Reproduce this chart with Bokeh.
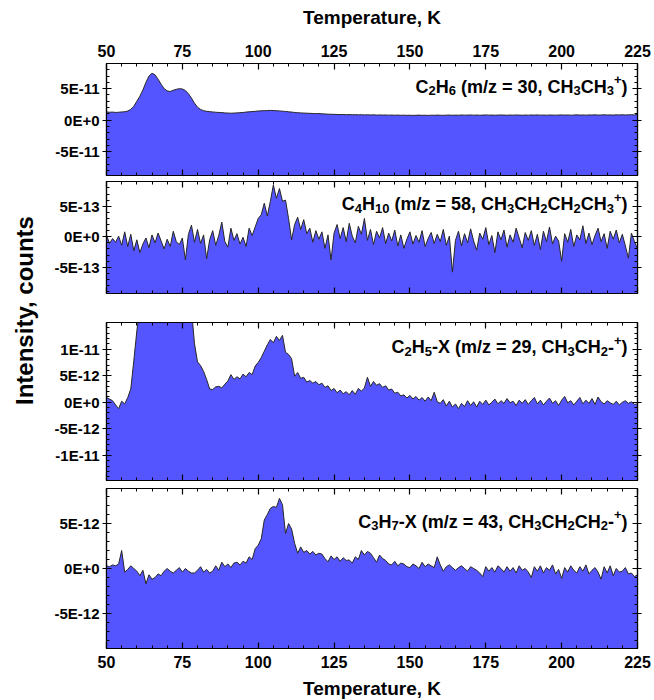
import numpy as np
from bokeh.plotting import figure
from bokeh.layouts import row, column
from bokeh.models import (LinearAxis, FixedTicker, CustomJSTickFormatter, Range1d,
                          ColumnDataSource, Label)
from bokeh.core.properties import value
from bokeh.embed import file_html
from bokeh.resources import INLINE

# ---------------- data ----------------
temperature_K = list(range(50, 226))   # 1 K sampling grid, 50 ... 225 K

# C2H6, m/z = 30 (units of 1e-11 counts)
c2h6_e11 = [
    1.30, 1.25, 1.28, 1.22, 1.25, 1.30, 1.33, 1.45, 1.70, 2.20,
    3.00, 3.80, 4.80, 6.00, 7.00, 7.45, 7.20, 6.50, 5.70, 5.00,
    4.65, 4.55, 4.75, 4.90, 5.00, 4.95, 4.70, 4.20, 3.50, 2.70,
    2.05, 1.70, 1.50, 1.40, 1.35, 1.30, 1.25, 1.22, 1.20, 1.15,
    1.12, 1.10, 1.12, 1.15, 1.18, 1.22, 1.28, 1.32, 1.36, 1.40,
    1.45, 1.48, 1.50, 1.52, 1.55, 1.52, 1.50, 1.46, 1.42, 1.38,
    1.32, 1.28, 1.22, 1.18, 1.15, 1.12, 1.10, 1.08, 1.05, 1.02,
    1.05, 1.00, 0.98, 0.95, 0.93, 0.92, 0.90, 0.88, 0.90, 0.86,
    0.88, 0.85, 0.87, 0.84, 0.86, 0.83, 0.85, 0.82, 0.84, 0.80,
    0.83, 0.80, 0.82, 0.79, 0.81, 0.78, 0.80, 0.77, 0.79, 0.76,
    0.78, 0.75, 0.77, 0.80, 0.76, 0.78, 0.75, 0.79, 0.77, 0.80,
    0.78, 0.76, 0.79, 0.81, 0.77, 0.80, 0.78, 0.82, 0.79, 0.80,
    0.82, 0.79, 0.81, 0.78, 0.80, 0.83, 0.79, 0.81, 0.78, 0.80,
    0.82, 0.80, 0.78, 0.81, 0.79, 0.82, 0.80, 0.78, 0.81, 0.79,
    0.82, 0.80, 0.83, 0.79, 0.81, 0.78, 0.82, 0.80, 0.79, 0.81,
    0.83, 0.80, 0.82, 0.79, 0.81, 0.84, 0.80, 0.82, 0.79, 0.83,
    0.81, 0.84, 0.80, 0.82, 0.85, 0.81, 0.83, 0.80, 0.84, 0.82,
    0.85, 0.82, 0.84, 0.86, 0.83, 0.90,
]

# C4H10, m/z = 58 (units of 1e-13 counts)
c4h10_e13 = [
    0.3, -1.1, -0.3, -0.9, 0.1, -1.4, 0.8, -1.6, 0.4, -2.3,
    -0.5, -2.6, -1.2, -0.2, -1.8, 0.3, -1.0, 0.6, -0.7, -2.0,
    -0.4, -1.6, 0.9, -0.8, -1.3, -0.2, -3.8, 0.4, 1.9, -0.9,
    1.2, -1.1, 0.3, -3.6, -0.5, 1.0, -1.4, 0.2, 2.4, -0.8,
    -1.7, 1.4, -0.6, 0.5, -1.2, -0.1, -1.6, 1.4, 0.2, 1.6,
    3.0, 3.6, 5.5, 3.4, 5.8, 8.5, 6.3, 7.9, 5.8, 6.0,
    3.0, -0.5, 2.0, 3.2, 1.2, 2.8, 0.5, 1.4, -0.9, 1.0,
    -0.4, 0.8, -1.9, 0.3, -3.8, 0.6, 2.0, -0.3, 1.5, -0.8,
    2.2, 0.1, -1.0, 1.7, 0.4, 3.0, -0.6, 1.2, -1.3, 0.9,
    -0.2, 1.5, -1.1, 0.6, -0.7, 1.1, -1.5, 0.3, -1.9, -0.4,
    0.8, -1.2, 0.2, -0.9, 1.0, -1.6, -0.3, 0.7, -1.1, 0.4,
    -0.8, 1.2, -1.4, 0.1, -5.8, -0.6, 0.9, -1.5, 0.5, -1.0,
    1.3, -0.7, -2.2, 0.6, -0.4, 1.5, -1.3, 0.2, -2.6, 0.8,
    -0.5, 1.1, -1.7, 0.3, -0.9, 1.4, -0.2, -1.8, 0.7, -0.6,
    1.0, -1.4, 0.4, -2.1, 0.9, -0.8, 1.6, -1.2, 0.1, -0.7,
    -4.0, 0.5, -0.9, 1.2, -1.6, 0.3, -0.5, 1.8, -1.1, 0.6,
    -1.3, 0.2, 1.4, -0.8, 0.5, -1.9, 0.9, -0.4, 1.1, -1.0,
    0.4, -1.5, -3.5, 0.6, -0.8, -2.0,
]

# C2H5-X, m/z = 29 (units of 1e-12 counts)
c2h5x_e12 = [
    0.9, 0.6, 0.3, -0.5, -1.2, 0.2, -0.3, 0.9, 2.5, 7.8,
    13.4, 18.0, 22.0, 25.0, 27.0, 28.0, 28.0, 27.0, 26.0, 25.0,
    24.0, 23.0, 24.0, 25.0, 25.0, 24.0, 22.0, 20.0, 17.5, 11.0,
    7.6, 6.9, 5.8, 4.3, 2.5, 2.4, 2.9, 3.0, 2.7, 3.4,
    4.0, 5.2, 4.3, 4.8, 4.4, 5.3, 4.8, 5.6, 5.2, 6.8,
    7.5, 8.4, 9.6, 10.8, 11.8, 11.2, 12.4, 11.6, 12.6, 9.4,
    9.0, 8.2, 4.9, 5.6, 4.5, 4.7, 3.8, 4.1, 3.6, 3.9,
    3.3, 3.6, 2.8, 3.1, 2.2, 2.6, 1.8, 2.3, 1.6, 2.0,
    1.4, 2.2, 1.5, 2.6, 2.1, 2.7, 4.7, 3.0, 3.9, 3.2,
    3.5, 2.8, 3.1, 2.3, 2.5, 1.7, 1.9, 1.2, 1.4, 0.8,
    1.3, 0.6, 1.1, 0.4, 0.9, 0.2, 1.0, 0.3, 1.9, 0.1,
    -0.2, 0.5, -0.7, 0.2, -0.9, -0.3, -1.2, -0.2, -0.8, 0.3,
    -0.6, 0.1, -0.9, 0.2, -0.4, 0.4, -0.5, 0.0, 0.6, -0.3,
    0.3, -0.2, 0.7, -0.1, 0.2, -0.6, 0.4, -0.2, 0.5, -0.4,
    0.3, 0.9, -0.3, 0.4, -0.5, 0.2, 0.8, -0.2, 0.3, -0.6,
    0.4, 1.1, -0.1, 0.3, -0.5, 0.2, 0.9, -0.3, 0.4, -0.2,
    0.7, -0.4, 1.0, 0.1, -0.3, 0.3, -0.1, -0.4, 0.2, -0.5,
    0.0, 0.3, -0.2, 0.1, -0.4, -0.3,
]

# C3H7-X, m/z = 43 (units of 1e-12 counts)
c3h7x_e12 = [
    0.3, 0.2, 0.4, 0.3, 0.5, 2.0, -0.4, -0.1, 0.3, 0.0,
    -0.3, -0.8, -0.2, -1.7, -0.7, -1.2, -1.0, -0.6, -0.8, -0.3,
    0.0, -0.3, -0.5, -0.2, 0.1, -0.4, 0.0, -0.3, -0.5, -0.5,
    -0.2, 0.2, -0.4, -0.1, -0.5, -0.3, 0.3, -0.2, 0.7, 0.2,
    0.5, 0.1, 0.6, 0.7, 0.4, 0.8, 0.6, 1.3, 1.0, 2.2,
    2.6, 3.3, 5.4, 6.0, 6.7, 6.9, 6.8, 7.8, 7.1, 3.9,
    5.0, 4.4, 2.8, 1.7, 2.4, 1.8, 2.0, 1.6, 1.9, 1.5,
    1.7, 1.6, 1.1, 0.75, 1.4, 1.0, 1.3, 0.8, 1.2, 0.9,
    0.95, 0.6, 1.3, 1.0, 2.0, 1.5, 1.9, 1.7, 1.2, 0.7,
    1.5, 1.1, 0.9, 0.5, 0.4, 0.8, 0.3, 0.6, 0.5, 0.2,
    0.1, 0.5, 0.3, 0.0, 0.7, 0.2, 0.5, 0.3, 0.1, 1.3,
    0.4, -0.3, 0.2, 0.4, 0.1, -0.2, 0.1, 0.3, 0.0, -0.3,
    0.2, 0.0, -0.2, -0.5, -0.9, 0.2, -0.3, 0.1, -0.4, 0.3,
    0.0, -0.4, 0.2, -0.3, 0.1, -0.5, 0.3, -0.2, 0.0, -0.4,
    -1.0, 0.2, -0.3, 0.3, -0.5, 0.1, -0.2, 0.4, -0.6, -0.1,
    -1.1, 0.1, -0.4, 0.3, -0.2, -0.5, 0.2, -0.3, 0.4, -0.6,
    -0.2, 0.1, -0.4, -1.2, 0.2, -0.5, 0.3, -0.8, 0.0, -0.4,
    -0.3, 0.1, -0.6, -0.5, -0.9, -0.7,
]

# tick positions
x_major_ticks = [50, 75, 100, 125, 150, 175, 200, 225]
x_minor_ticks = list(range(50, 226, 5))
p1_major = [-5e-11, 0.0, 5e-11]
p2_major = [-5e-13, 0.0, 5e-13]
p3_major = [-1e-11, -5e-12, 0.0, 5e-12, 1e-11]
p4_major = [-5e-12, 0.0, 5e-12]

# panel labels: (text piece, kind)  n = normal, b = subscript, p = superscript
label_1 = [("C", "n"), ("2", "b"), ("H", "n"), ("6", "b"), (" (m/z = 30, CH", "n"),
           ("3", "b"), ("CH", "n"), ("3", "b"), ("+", "p"), (")", "n")]
label_2 = [("C", "n"), ("4", "b"), ("H", "n"), ("10", "b"), (" (m/z = 58, CH", "n"),
           ("3", "b"), ("CH", "n"), ("2", "b"), ("CH", "n"), ("2", "b"), ("CH", "n"),
           ("3", "b"), ("+", "p"), (")", "n")]
label_3 = [("C", "n"), ("2", "b"), ("H", "n"), ("5", "b"), ("-X (m/z = 29, CH", "n"),
           ("3", "b"), ("CH", "n"), ("2", "b"), ("-", "n"), ("+", "p"), (")", "n")]
label_4 = [("C", "n"), ("3", "b"), ("H", "n"), ("7", "b"), ("-X (m/z = 43, CH", "n"),
           ("3", "b"), ("CH", "n"), ("2", "b"), ("CH", "n"), ("2", "b"), ("-", "n"),
           ("+", "p"), (")", "n")]

# ---------------- styling ----------------
FONT = "Liberation Sans"
FILL = "#5555FF"
LINE = "#262626"
FRAME_W = 531
LEFT_B = 66
RIGHT_B = 16

CHAR_W = {"C": 722, "H": 722, "X": 667, "m": 889, "z": 500, "/": 278, "=": 584,
          " ": 278, "(": 333, ")": 333, ",": 278, "-": 333, "+": 584}
for d in "0123456789":
    CHAR_W[d] = 556

N_SIZE, S_SIZE = 18, 13


def label_source(parts, y):
    sizes = {"n": N_SIZE, "b": S_SIZE, "p": S_SIZE}
    dy = {"n": 0, "b": 4, "p": -7}
    widths = [sum(CHAR_W[c] for c in t) * sizes[k] / 1000.0 for t, k in parts]
    total = sum(widths)
    xo, texts, cum = [], [], -10 - total
    for (t, k), w in zip(parts, widths):
        lead = len(t) - len(t.lstrip(" "))
        xo.append(cum + lead * CHAR_W[" "] * sizes[k] / 1000.0)
        texts.append(t.lstrip(" "))
        cum += w
    return ColumnDataSource(dict(
        x=[225] * len(parts), y=[y] * len(parts),
        text=texts, xo=xo,
        yo=[dy[k] - 2 for _, k in parts],
        fs=[f"{sizes[k]}px" for _, k in parts]))


sci_fmt = CustomJSTickFormatter(code="""
if (Math.abs(tick) < 1e-30) { return "0E+0"; }
const e = Math.floor(Math.log10(Math.abs(tick)) + 1e-9);
const m = Math.round(tick / Math.pow(10, e));
return m + "E" + (e >= 0 ? "+" : "") + e;
""")


def style_axis(ax, labels, is_x):
    ax.axis_line_color = "black"
    ax.axis_line_width = 1.2
    ax.major_tick_line_color = "black"
    ax.minor_tick_line_color = "black"
    ax.major_tick_line_width = 1.2
    ax.minor_tick_line_width = 1
    if is_x:
        ax.major_tick_in, ax.major_tick_out = 6, 0
    else:
        ax.major_tick_in, ax.major_tick_out = 5, 4
    ax.minor_tick_in, ax.minor_tick_out = 3, 0
    ax.major_label_text_font = FONT
    ax.major_label_text_font_style = "bold"
    ax.major_label_text_color = "black"
    if labels:
        ax.major_label_text_font_size = "16px" if is_x else "15px"
        ax.major_label_standoff = 7 if is_x else 3
    else:
        ax.major_label_text_font_size = "0px"
        ax.major_label_standoff = 0
        ax.major_label_text_alpha = 0


def make_panel(vals, unit, yr, majors, minor_step, parts, label_y,
               top_b, frame_h, bot_b, top_labels=False, bottom_labels=False):
    p = figure(frame_width=FRAME_W, frame_height=frame_h,
               x_range=Range1d(50, 225), y_range=Range1d(*yr),
               x_axis_type=None, y_axis_type=None,
               toolbar_location=None, output_backend="svg",
               min_border_left=LEFT_B, min_border_right=RIGHT_B,
               min_border_top=top_b, min_border_bottom=bot_b)
    p.outline_line_color = "black"
    p.outline_line_width = 1.2
    p.background_fill_color = "white"
    p.border_fill_color = "white"

    y = np.array(vals) * unit
    src = ColumnDataSource(dict(T=temperature_K, v=y, base=[yr[0]] * len(y)))
    p.varea(x="T", y1="base", y2="v", source=src, fill_color=FILL)
    p.line(x="T", y="v", source=src, line_color=LINE, line_width=1)

    xt = FixedTicker(ticks=x_major_ticks, minor_ticks=x_minor_ticks)
    k0 = int(np.ceil(yr[0] / minor_step - 1e-6))
    k1 = int(np.floor(yr[1] / minor_step + 1e-6))
    yt = FixedTicker(ticks=majors, minor_ticks=[k * minor_step for k in range(k0, k1 + 1)])

    for side, lab in (("above", top_labels), ("below", bottom_labels)):
        ax = LinearAxis(ticker=xt)
        style_axis(ax, lab, True)
        if lab:
            ax.axis_label = "Temperature, K"
            ax.axis_label_text_font = FONT
            ax.axis_label_text_font_style = "bold"
            ax.axis_label_text_font_size = "19px"
            ax.axis_label_text_color = "black"
            ax.axis_label_standoff = 14 if side == "above" else 7
        p.add_layout(ax, side)
    for side, lab in (("left", True), ("right", False)):
        ax = LinearAxis(ticker=yt, formatter=sci_fmt)
        style_axis(ax, lab, False)
        p.add_layout(ax, side)

    p.text(x="x", y="y", text="text", x_offset="xo", y_offset="yo",
           text_font_size="fs", source=label_source(parts, label_y),
           text_font=value(FONT), text_font_style="bold", text_color="black",
           text_align="left", text_baseline="alphabetic")
    return p


p1 = make_panel(c2h6_e11, 1e-11, (-8.8e-11, 9.0e-11), p1_major, 1e-11, label_1, 5e-11,
                63, 112, 3, top_labels=True)
p2 = make_panel(c4h10_e13, 1e-13, (-9.3e-13, 9.05e-13), p2_major, 1e-13, label_2, 5e-13,
                3, 112, 14)
p3 = make_panel(c2h5x_e12, 1e-12, (-1.47e-11, 1.5e-11), p3_major, 1e-12, label_3, 1e-11,
                15, 158, 4)
p4 = make_panel(c3h7x_e12, 1e-12, (-8.9e-12, 8.9e-12), p4_major, 1e-12, label_4, 5e-12,
                4, 160, 52, bottom_labels=True)

lab_fig = figure(width=40, height=700, x_range=Range1d(0, 40), y_range=Range1d(0, 700),
                 x_axis_type=None, y_axis_type=None, toolbar_location=None,
                 output_backend="svg", min_border=0)
lab_fig.outline_line_color = None
lab_fig.background_fill_color = "white"
lab_fig.border_fill_color = "white"
lab_fig.add_layout(Label(x=24, y=390, text="Intensity, counts", angle=np.pi / 2,
                         text_align="center", text_baseline="middle",
                         text_font_size="24px", text_font_style="bold",
                         text_font=FONT, text_color="black"))

layout = row(lab_fig, column(p1, p2, p3, p4))

with open("out.html", "w") as f:
    f.write(file_html(layout, INLINE))
